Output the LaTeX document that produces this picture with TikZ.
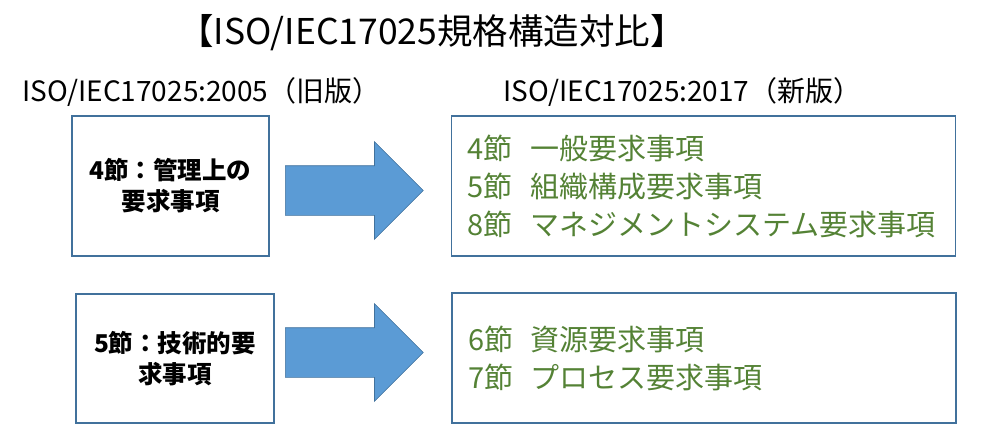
\documentclass[tikz,border=0pt]{standalone}
\usepackage{fontspec}
\setmainfont{Noto Sans CJK JP}
\usetikzlibrary{shapes.arrows, positioning}
\definecolor{boxline}{HTML}{41719C}
\definecolor{arrowfill}{HTML}{5B9BD5}
\definecolor{newtext}{HTML}{548235}
\tikzset{
	x=1pt, y=-1pt,
	heading/.style={inner sep=0pt, font=\fontsize{28pt}{34pt}\selectfont},
	oldbox/.style={draw=boxline, line width=1.2pt, align=center, font=\bfseries\fontsize{24.5pt}{31pt}\selectfont},
	newbox/.style={draw=boxline, line width=1.2pt, align=left, text width=472pt, inner sep=16pt, text=newtext, font=\fontsize{29pt}{38pt}\selectfont},
	bigarrow/.style={single arrow, fill=arrowfill, draw=boxline, line width=0.6pt, minimum height=138pt, minimum width=97pt, single arrow head extend=24pt, inner xsep=0pt, inner ysep=24.5pt, anchor=tail}}

\begin{document}
\begin{tikzpicture}
		\useasboundingbox (0,0) rectangle (993,433);
		
		% titles
		\node[inner sep=0pt, font=\fontsize{35.5pt}{40pt}\selectfont] (title) at (432,33) {【ISO/IEC17025規格構造対比】};
		\node[heading, anchor=west] (old) at (22,92) {ISO/IEC17025:2005（旧版）};
		\node[heading, anchor=west] (new) at (503,92) {ISO/IEC17025:2017（新版）};
		
		% old clauses
		\node[oldbox, minimum width=197pt, minimum height=140pt] (o4) at (170.5,186) {4節：管理上の\\要求事項};
		\node[oldbox, minimum width=198pt, minimum height=129pt] (o5) at (175,358.5) {5節：技術的要\\求事項};
		
		% new clauses
		\node[newbox, minimum height=140pt] (n4) at (703.5,186) {4節\hspace{.6em}一般要求事項\\5節\hspace{.6em}組織構成要求事項\\8節\hspace{.6em}マネジメントシステム要求事項};
		\node[newbox, minimum height=130pt] (n6) at (704,358) {6節\hspace{.6em}資源要求事項\\7節\hspace{.6em}プロセス要求事項};
		
		% arrows
		\node[bigarrow] (a1) at (285,190.5) {};
		\node[bigarrow] (a2) at (285,352.5) {};
	\end{tikzpicture}
\end{document}
